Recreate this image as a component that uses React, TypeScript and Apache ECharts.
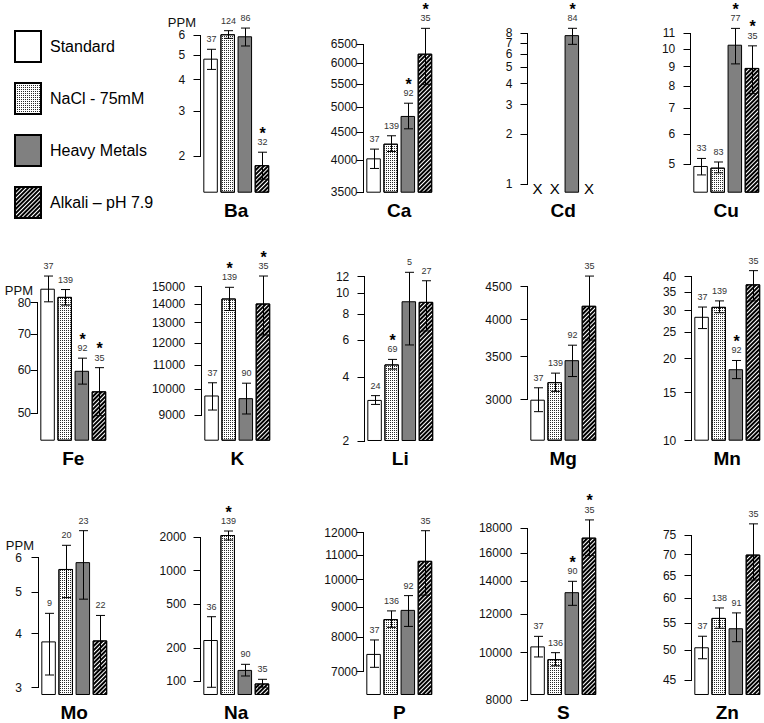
import React, { useEffect, useRef } from 'react';
import * as echarts from 'echarts';

const FONT = "'Liberation Sans', Arial, Helvetica, sans-serif";

// ---------------- DATA ----------------
const groups = ['Standard', 'NaCl - 75mM', 'Heavy Metals', 'Alkali – pH 7.9'];
const elements = ['Ba', 'Ca', 'Cd', 'Cu', 'Fe', 'K', 'Li', 'Mg', 'Mn', 'Mo', 'Na', 'P', 'S', 'Zn'];

// mean PPM, order: Standard, NaCl, Heavy Metals, Alkali
const means: (number | null)[][] = [
  [4.84, 6.04, 5.93, 1.84], // Ba
  [4030, 4285, 4814, 6249], // Ca
  [null, null, 7.8, null], // Cd
  [4.95, 4.9, 10.27, 8.93], // Cu
  [84.9, 82.0, 59.9, 54.9], // Fe
  [9737, 14314, 9634, 14033], // K
  [3.13, 4.61, 9.18, 9.12], // Li
  [3000, 3195, 3457, 4202], // Mg
  [28.5, 31.0, 18.3, 37.5], // Mn
  [3.84, 5.65, 5.86, 3.86], // Mo
  [235, 2097, 126, 95], // Na
  [7500, 8583, 8896, 10760], // P
  [10300, 9700, 13300, 17200], // S
  [50.5, 56, 54, 70], // Zn
];
const upper: (number | null)[][] = [
  [5.27, 6.24, 6.39, 2.07],
  [4189, 4430, 5078, 6950],
  [null, null, 8.57, null],
  [5.18, 5.07, 11.33, 10.2],
  [89.6, 84.6, 63.2, 60.7],
  [10241, 14964, 10224, 15650],
  [3.28, 4.87, 12.59, 11.48],
  [3131, 3300, 3648, 4675],
  [30.95, 32.6, 19.7, 42.1],
  [4.46, 6.41, 6.93, 4.41],
  [382, 2280, 141.6, 103.6],
  [7917, 8861, 9402, 12093],
  [10800, 10000, 14000, 18700],
  [52.5, 58, 57, 78],
];
const lower: (number | null)[][] = [
  [4.39, 5.82, 5.43, 1.62],
  [3863, 4148, 4561, 5497],
  [null, null, 6.87, null],
  [4.69, 4.75, 9.15, 7.65],
  [80.3, 79.2, 56.6, 49.5],
  [9190, 13648, 9047, 12384],
  [2.98, 4.38, 5.7, 6.64],
  [2874, 3091, 3260, 3716],
  [25.8, 29.5, 16.9, 32.6],
  [3.21, 4.85, 4.81, 3.3],
  [87.7, 1890, 111, 88],
  [7120, 8314, 8344, 9420],
  [9800, 9400, 12500, 15800],
  [48.5, 54, 51.5, 64],
];
const counts: (number | null)[][] = [
  [37, 124, 86, 32],
  [37, 139, 92, 35],
  [null, null, 84, null],
  [33, 83, 77, 35],
  [37, 139, 92, 35],
  [37, 139, 90, 35],
  [24, 69, 5, 27],
  [37, 139, 92, 35],
  [37, 139, 92, 35],
  [9, 20, 23, 22],
  [36, 139, 90, 35],
  [37, 136, 92, 35],
  [37, 136, 90, 35],
  [37, 138, 91, 35],
];
const significant: number[][] = [
  [0, 0, 0, 1],
  [0, 0, 1, 1],
  [0, 0, 1, 0],
  [0, 0, 1, 1],
  [0, 0, 1, 1],
  [0, 1, 0, 1],
  [0, 1, 0, 0],
  [0, 0, 0, 0],
  [0, 0, 1, 0],
  [0, 0, 0, 0],
  [0, 1, 0, 0],
  [0, 0, 0, 0],
  [0, 0, 1, 1],
  [0, 0, 0, 0],
];
const tickValues: number[][] = [
  [2, 3, 4, 5, 6],
  [3500, 4000, 4500, 5000, 5500, 6000, 6500],
  [1, 2, 3, 4, 5, 6, 7, 8],
  [5, 6, 7, 8, 9, 10, 11],
  [50, 60, 70, 80],
  [9000, 10000, 11000, 12000, 13000, 14000, 15000],
  [2, 4, 6, 8, 10, 12],
  [3000, 3500, 4000, 4500],
  [10, 15, 20, 25, 30, 35, 40],
  [3, 4, 5, 6],
  [100, 200, 500, 1000, 2000],
  [7000, 8000, 9000, 10000, 11000, 12000],
  [8000, 10000, 12000, 14000, 16000, 18000],
  [45, 50, 55, 60, 65, 70, 75],
];

// ---------------- LAYOUT (pixels) ----------------
const panelAxisX = [200.7, 364, 527.3, 690.7, 37.7, 201.7, 365, 527.7, 691.7, 39, 200.7, 364, 527.5, 691.5];
const panelTopTickPx = [35, 44.3, 33.3, 33.3, 302.7, 286.7, 276.7, 286.7, 276.7, 557.7, 537.3, 532.7, 528, 535];
const panelLowTickPx = [156, 192, 184.3, 164.3, 413.3, 415.3, 441, 399.7, 440.7, 687.7, 681, 671.7, 700, 680];
const panelBasePx = [192.7, 192.7, 192.7, 192.7, 440.7, 440.7, 441, 440.7, 440.7, 695, 695, 695, 695, 695];
const panelLabelMargin = [15.7, 6.5, 15.6, 15.7, 7, 16.7, 15.7, 16, 15.7, 17, 14.7, 6.3, 15.7, 15.7];
const ppmPanels = [0, 4, 9];
const PANEL_W = 68.5;

const groupStyles: any[] = [
  { color: '#ffffff', borderColor: '#000', borderWidth: 1 },
  {
    color: '#ffffff', borderColor: '#000', borderWidth: 1,
    decal: { symbol: 'rect', symbolSize: 1, color: '#2a2a2a', dashArrayX: [1, 1], dashArrayY: [1, 1], rotation: 0 },
  },
  { color: '#808080', borderColor: '#000', borderWidth: 1 },
  {
    color: '#ffffff', borderColor: '#000', borderWidth: 1,
    decal: { symbol: 'rect', symbolSize: 1, color: '#000', dashArrayX: [1, 0], dashArrayY: [1.6, 1], rotation: -Math.PI / 4 },
  },
];

function buildOption() {
  const grid: any[] = [];
  const xAxis: any[] = [];
  const yAxis: any[] = [];
  const series: any[] = [];

  elements.forEach((el, p) => {
    const ticks = tickValues[p];
    const hiT = Math.max(...ticks);
    const loT = Math.min(...ticks);
    const topPx = panelTopTickPx[p];
    const lowPx = panelLowTickPx[p];
    const basePx = panelBasePx[p];
    const ppd = (lowPx - topPx) / (Math.log10(hiT) - Math.log10(loT));
    const baseLog = Math.log10(loT) - (basePx - lowPx) / ppd;
    const ty = (v: number) => Math.log10(v) - baseLog;
    const yMax = ty(hiT) + 1e-6;
    const yMin = Math.min(0, ty(loT)) - 1e-6;
    const bottomPx = Math.max(basePx, lowPx);
    const left = Math.round(panelAxisX[p] + 1.3);
    const off = 1;

    grid.push({
      left, top: topPx, width: PANEL_W, height: bottomPx - topPx,
      containLabel: false, outerBoundsMode: 'none',
    });
    xAxis.push({
      type: 'category', gridIndex: p, data: groups,
      axisLine: { show: false, onZero: false }, axisTick: { show: false }, axisLabel: { show: false },
      splitLine: { show: false },
      name: el, nameLocation: 'middle', nameGap: 8 - (bottomPx - basePx),
      nameTextStyle: { fontSize: 19, fontWeight: 'bold', color: '#000', fontFamily: FONT, verticalAlign: 'top' },
    });
    const isPPM = ppmPanels.includes(p);
    const fmt = (v: number) => {
      const t = ticks.find((tt) => Math.abs(ty(tt) - v) < 1e-4);
      return t != null ? String(t) : '';
    };
    // ticks split over two co-located axes so that close labels are never auto-hidden
    [0, 1].forEach((part) => {
      const tv = ticks.filter((_, k) => k % 2 === part).map(ty);
      yAxis.push({
        type: 'value', gridIndex: p, min: yMin, max: yMax, offset: off, position: 'left',
        axisLine: { show: false, onZero: false }, splitLine: { show: false },
        axisTick: { show: true, length: 7.5, inside: false, lineStyle: { color: '#000', width: 1 }, customValues: tv },
        axisLabel: {
          show: true, margin: panelLabelMargin[p], fontSize: 12, color: '#111', fontFamily: FONT,
          customValues: tv, hideOverlap: false, showMinLabel: true, showMaxLabel: true,
          formatter: fmt,
        },
        name: isPPM && part === 0 ? 'PPM' : '',
        nameLocation: 'end', nameGap: 12,
        nameTextStyle: { fontSize: 13, color: '#111', fontFamily: FONT, align: 'right', verticalAlign: 'middle', padding: [0, 5, 0, 0] },
      });
    });
    const yi = 2 * p;

    // bars
    groups.forEach((g, gi) => {
      series.push({
        type: 'bar', name: g, xAxisIndex: p, yAxisIndex: yi, stack: 'st' + p,
        barWidth: 14.5, clip: false, silent: true,
        itemStyle: groupStyles[gi],
        data: groups.map((_, ci) => {
          const m = means[p][ci];
          return ci === gi && m != null ? ty(m) : '-';
        }),
      });
    });

    // error bars, counts, significance, missing marks
    const errData = groups.map((_, ci) => {
      const m = means[p][ci];
      if (m == null) return [ci, 0, 0, 0, 0, 1];
      return [ci, ty(upper[p][ci] as number), ty(lower[p][ci] as number), counts[p][ci] as number, significant[p][ci], 0];
    });
    series.push({
      type: 'custom', xAxisIndex: p, yAxisIndex: yi, silent: true, z: 5,
      encode: { x: 0, y: [1, 2] },
      data: errData,
      renderItem: (params: any, api: any) => {
        const gi = api.value(0);
        if (api.value(5)) {
          const b = api.coord([gi, 0]);
          return {
            type: 'text', x: b[0], y: b[1] - 4.5,
            style: { text: 'X', fill: '#000', font: `15px ${FONT}`, align: 'center', verticalAlign: 'middle' },
          };
        }
        const hi = api.coord([gi, api.value(1)]);
        const lo = api.coord([gi, api.value(2)]);
        const x = Math.round(hi[0]) + 0.5;
        const cap = 4.5;
        const ls = { stroke: '#000', lineWidth: 1 };
        const children: any[] = [
          { type: 'line', shape: { x1: x, y1: hi[1], x2: x, y2: lo[1] }, style: ls },
          { type: 'line', shape: { x1: x - cap, y1: hi[1], x2: x + cap, y2: hi[1] }, style: ls },
          { type: 'line', shape: { x1: x - cap, y1: lo[1], x2: x + cap, y2: lo[1] }, style: ls },
          {
            type: 'text', x, y: hi[1] - 10,
            style: { text: String(api.value(3)), fill: '#333', font: `9px ${FONT}`, align: 'center', verticalAlign: 'middle' },
          },
        ];
        if (api.value(4)) {
          children.push({
            type: 'text', x, y: hi[1] - 19,
            style: { text: '*', fill: '#000', font: `bold 16px ${FONT}`, align: 'center', verticalAlign: 'middle' },
          });
        }
        return { type: 'group', children };
      },
    });

    // R-style axis line spanning lowest to highest tick
    series.push({
      type: 'custom', xAxisIndex: p, yAxisIndex: yi, silent: true, z: 5,
      encode: { x: 0, y: [1, 2] },
      data: [[0, ty(hiT), ty(loT)]],
      renderItem: (params: any, api: any) => {
        const a = api.coord([0, api.value(1)]);
        const b = api.coord([0, api.value(2)]);
        const x = params.coordSys.x - off - 0.5;
        return {
          type: 'line', shape: { x1: x, y1: a[1], x2: x, y2: b[1] },
          style: { stroke: '#000', lineWidth: 1 },
        };
      },
    });
  });

  return {
    animation: false,
    backgroundColor: '#ffffff',
    textStyle: { fontFamily: FONT },
    legend: {
      show: true, orient: 'vertical', left: 14, top: 30, padding: 0,
      itemWidth: 26, itemHeight: 31, itemGap: 19, icon: 'rect',
      selectedMode: false,
      textStyle: { fontSize: 16, color: '#000', fontFamily: FONT, padding: [0, 0, 0, 4] },
      data: groups,
    },
    grid, xAxis, yAxis, series,
  };
}

export default function App() {
  const ref = useRef<HTMLDivElement>(null);
  useEffect(() => {
    const chart = echarts.init(ref.current!, null, { renderer: 'svg' });
    chart.setOption(buildOption() as any);
    return () => chart.dispose();
  }, []);
  return (
    <div
      ref={ref}
      style={{ position: 'absolute', left: 0, top: 0, width: 764, height: 723, background: '#fff' }}
    />
  );
}
